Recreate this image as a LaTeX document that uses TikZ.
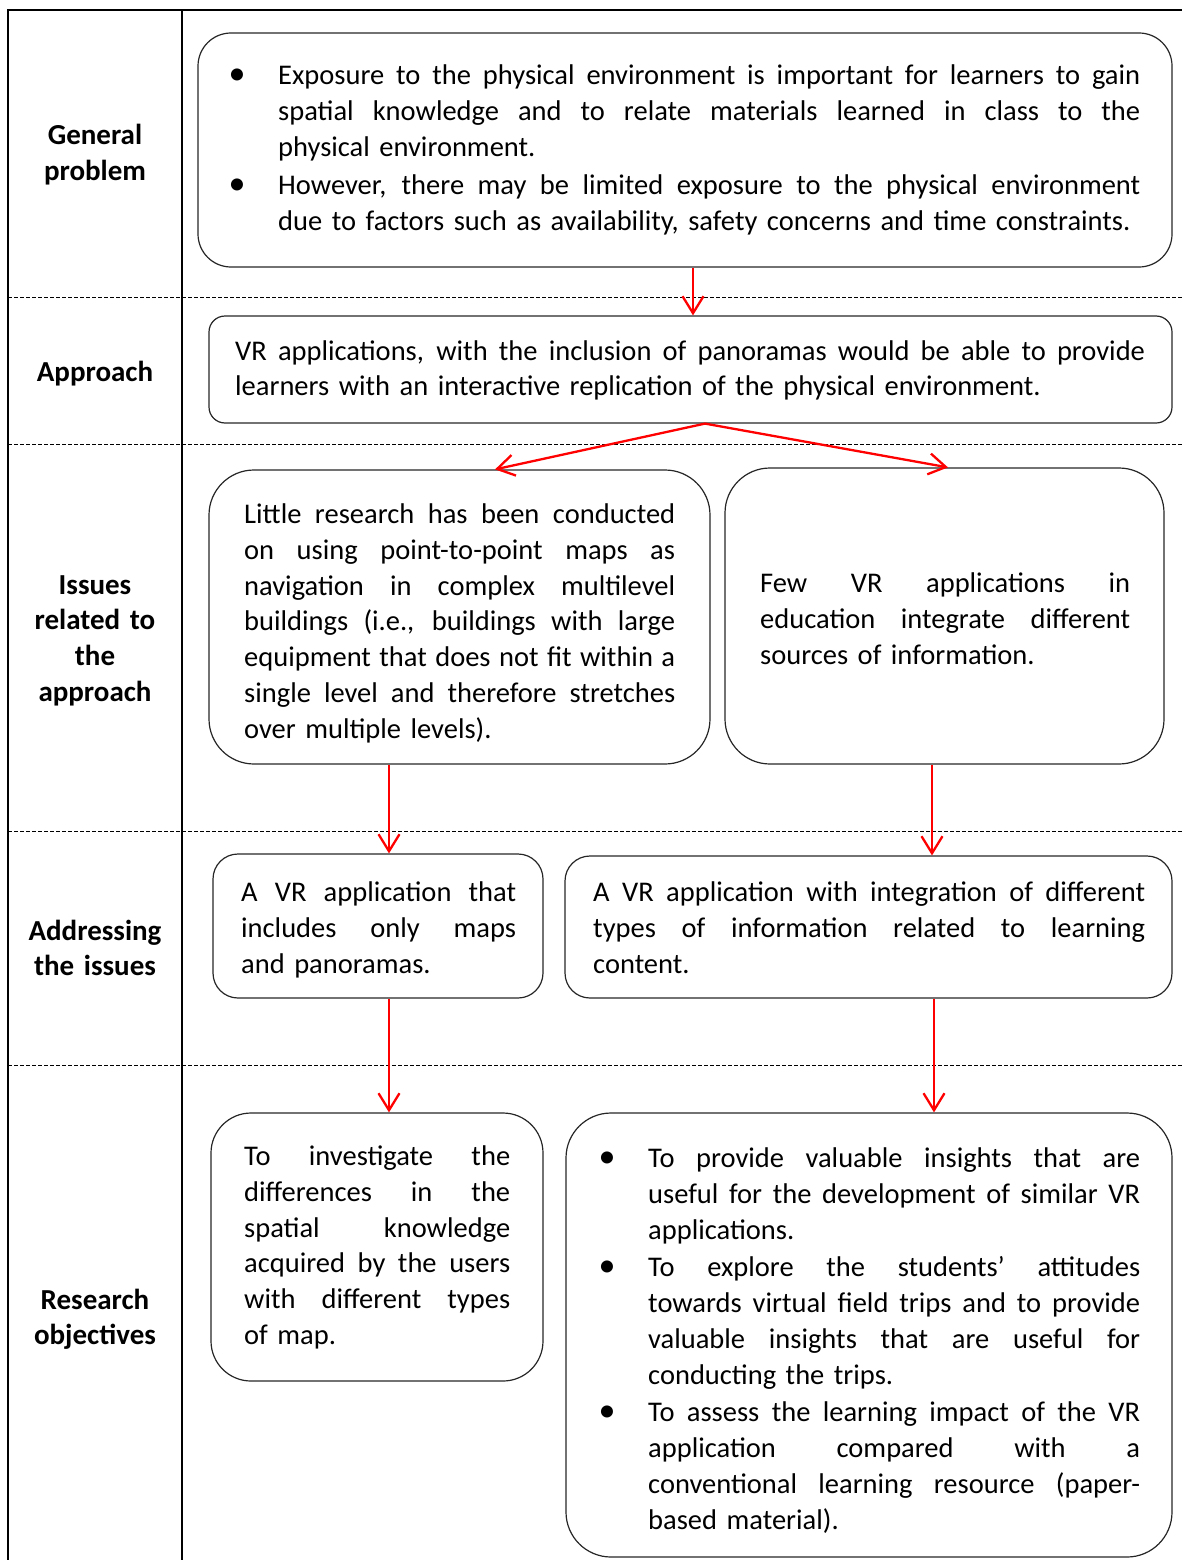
\documentclass[tikz,border=0pt]{standalone}
\usepackage{fontspec}
\setmainfont{Carlito}
\usetikzlibrary{arrows.meta}
\newlength\jw
\newcommand\jline[1]{\leavevmode\hbox to \jw{\spaceskip=0.226em plus 20em minus 0.03em\xspaceskip=\spaceskip #1}}
\newcommand\bul{\makebox[0pt][l]{\hspace{-41pt}\makebox[0pt]{\fontsize{34}{34}\selectfont •}}}
\begin{document}
\begin{tikzpicture}[x=1pt,y=-1pt,
  frame/.style={line width=2pt, black},
  sep/.style={line width=0.9pt, dash pattern=on 4pt off 2pt},
  box/.style={draw=black!85, line width=1.2pt, rectangle, inner sep=0pt},
  txt/.style={inner sep=0pt, anchor=base west, font=\fontsize{28.5}{35.8}\selectfont,
    text width=#1pt, execute at begin node={\setlength{\jw}{#1pt}}},
  lab/.style={inner sep=0pt, anchor=base, text width=170pt, align=center, font=\fontsize{29}{35.7}\selectfont\bfseries},
  arr/.style={red, line width=2.3pt, -{Straight Barb[length=17pt,width=21pt,line width=2.3pt]}}
]
\useasboundingbox (0,0) rectangle (1182,1560);
% frame
\draw[frame] (1182,10) -- (8,10) -- (8,1560);
\draw[frame] (182,10) -- (182,1560);
% row separators
\foreach \yy in {297,444,831,1065} \draw[sep] (8,\yy) -- (1182,\yy);
% left labels
\node[lab] (l1) at (95,145) {General\\problem};
\node[lab] (l2) at (95,381) {Approach};
\node[lab] (l3) at (95,594) {Issues\\related to\\the\\approach};
\node[lab] (l4) at (95,940) {Addressing\\the issues};
\node[lab] (l5) at (95,1309) {Research\\objectives};
% boxes
\node[box, rounded corners=33pt, minimum width=974pt, minimum height=234pt] (b1) at (685,150) {};
\node[box, rounded corners=16pt, minimum width=963pt, minimum height=107pt] (b2) at (690.5,369.5) {};
\node[box, rounded corners=45pt, minimum width=501pt, minimum height=294pt] (b3) at (459.5,617) {};
\node[box, rounded corners=45pt, minimum width=439pt, minimum height=296pt] (b4) at (944.5,616) {};
\node[box, rounded corners=25pt, minimum width=330pt, minimum height=144pt] (b5) at (378,926) {};
\node[box, rounded corners=25pt, minimum width=607pt, minimum height=142pt] (b6) at (868.5,927) {};
\node[box, rounded corners=40pt, minimum width=332pt, minimum height=268pt] (b7) at (377,1247) {};
\node[box, rounded corners=45pt, minimum width=606pt, minimum height=444pt] (b8) at (869,1335) {};
% texts
\node[txt=862] (t1) at (278,84.5) {\bul\jline{Exposure to the physical environment is important for learners to gain}\\
\jline{spatial knowledge and to relate materials learned in class to the}\\
physical environment.\\[2.5pt]
\bul\jline{However, there may be limited exposure to the physical environment}\\
due to factors such as availability, safety concerns and time constraints.};
\node[txt=910] (t2) at (235,360) {\jline{VR applications, with the inclusion of panoramas would be able to provide}\\
learners with an interactive replication of the physical environment.};
\node[txt=431] (t3) at (244,523.5) {\jline{Little research has been conducted}\\
\jline{on using point-to-point maps as}\\
\jline{navigation in complex multilevel}\\
\jline{buildings (i.e., buildings with large}\\
\jline{equipment that does not fit within a}\\
\jline{single level and therefore stretches}\\
over multiple levels).};
\node[txt=370] (t4) at (760,592.5) {\jline{Few VR applications in}\\
\jline{education integrate different}\\
sources of information.};
\node[txt=275] (t5) at (241,901.5) {\jline{A VR application that}\\
\jline{includes only maps}\\
and panoramas.};
\node[txt=552] (t6) at (593,901.5) {\jline{A VR application with integration of different}\\
\jline{types of information related to learning}\\
content.};
\node[txt=266] (t7) at (244,1165.5) {\jline{To investigate the}\\
\jline{differences in the}\\
\jline{spatial knowledge}\\
\jline{acquired by the users}\\
\jline{with different types}\\
of map.};
\node[txt=492] (t8) at (648,1167.5) {\bul\jline{To provide valuable insights that are}\\
\jline{useful for the development of similar VR}\\
applications.\\[2pt]
\bul\jline{To explore the students’ attitudes}\\
\jline{towards virtual field trips and to provide}\\
\jline{valuable insights that are useful for}\\
conducting the trips.\\[1.5pt]
\bul\jline{To assess the learning impact of the VR}\\
\jline{application compared with a}\\
\jline{conventional learning resource (paper-}\\
based material).};
% arrow columns
\coordinate (c1) at (693,0);
\coordinate (c2) at (705,0);
\coordinate (c3) at (495,0);
\coordinate (c4) at (948,0);
\coordinate (c5) at (389,0);
\coordinate (c6) at (932,0);
\coordinate (c7) at (934,0);
% arrows
\draw[arr] (b1.south -| c1) -- (b2.north -| c1);
\draw[arr] (b2.south -| c2) -- (b3.north -| c3);
\draw[arr] (b2.south -| c2) -- (b4.north -| c4);
\draw[arr] (b3.south -| c5) -- (b5.north -| c5);
\draw[arr] (b4.south -| c6) -- (b6.north -| c6);
\draw[arr] (b5.south -| c5) -- (b7.north -| c5);
\draw[arr] (b6.south -| c7) -- (b8.north -| c7);
\end{tikzpicture}
\end{document}
